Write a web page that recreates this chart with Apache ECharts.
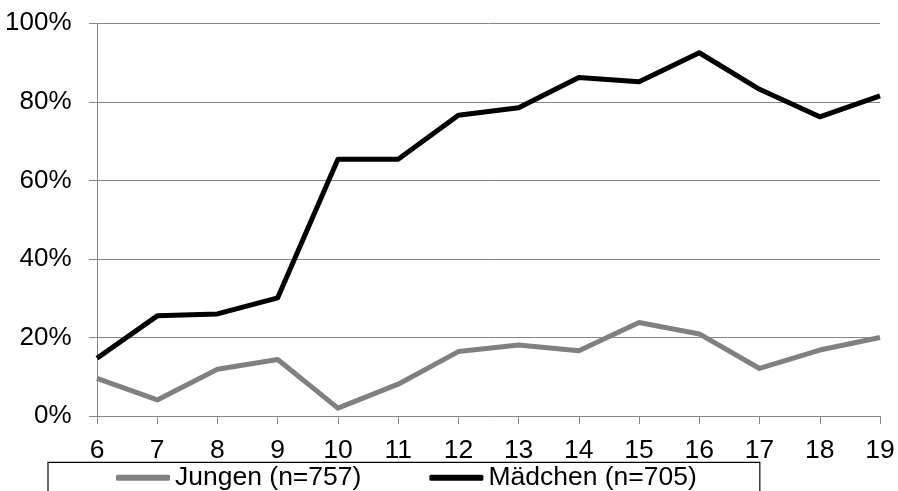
<!DOCTYPE html>
<html>
<head>
<meta charset="utf-8">
<script src="https://cdn.jsdelivr.net/npm/echarts@6/dist/echarts.min.js"></script>
<style>
html,body{margin:0;padding:0;background:#fff;}
#c{width:898px;height:491px;}
</style>
</head>
<body>
<div id="c"></div>
<script>
const categories = ['6','7','8','9','10','11','12','13','14','15','16','17','18','19'];
const jungen = [9.6, 4.1, 11.9, 14.4, 2.0, 8.1, 16.4, 18.1, 16.6, 23.8, 20.9, 12.1, 16.8, 20.0];
const maedchen = [14.7, 25.5, 26.0, 30.1, 65.4, 65.4, 76.6, 78.5, 86.2, 85.1, 92.5, 83.2, 76.2, 81.5];
const seriesNames = ['Jungen (n=757)', 'Mädchen (n=705)'];
const yTicks = [0, 20, 40, 60, 80, 100];

const chart = echarts.init(document.getElementById('c'), null, {renderer: 'canvas'});
const font = '"Liberation Sans", Arial, sans-serif';
const axisGray = '#868686';
const fs = 26.5;
chart.setOption({
  animation: false,
  textStyle: {fontFamily: font},
  grid: {left: 97, right: 18, top: 23.3, bottom: 75, containLabel: false},
  legend: {
    left: 48, top: 462.3,
    padding: [2, 63, 30, 68],
    borderColor: '#000', borderWidth: 1.2,
    itemGap: 68, itemWidth: 54, itemHeight: 6,
    icon: 'roundRect',
    textStyle: {fontSize: fs, color: '#000', fontFamily: font, lineHeight: 27},
    data: seriesNames
  },
  xAxis: {
    type: 'category', data: categories, boundaryGap: false,
    axisLine: {show: true, lineStyle: {color: axisGray, width: 1}},
    axisTick: {show: true, length: 8, lineStyle: {color: axisGray}},
    axisLabel: {fontSize: fs, color: '#000', margin: 21, fontFamily: font},
    splitLine: {show: false}
  },
  yAxis: {
    type: 'value', min: yTicks[0], max: yTicks[yTicks.length-1], interval: 20,
    axisLine: {show: true, lineStyle: {color: axisGray, width: 1}},
    axisTick: {show: true, length: 8, lineStyle: {color: axisGray}},
    axisLabel: {fontSize: 26, color: '#000', margin: 25.5, fontFamily: font, formatter: '{value}%'},
    splitLine: {show: true, lineStyle: {color: axisGray, width: 1}}
  },
  series: [
    {name: seriesNames[0], type: 'line', data: jungen, symbol: 'none',
     itemStyle: {color: '#808080'}, lineStyle: {color: '#808080', width: 5, join: 'round'}},
    {name: seriesNames[1], type: 'line', data: maedchen, symbol: 'none',
     itemStyle: {color: '#000'}, lineStyle: {color: '#000', width: 5, join: 'round'}}
  ]
});
</script>
</body>
</html>
